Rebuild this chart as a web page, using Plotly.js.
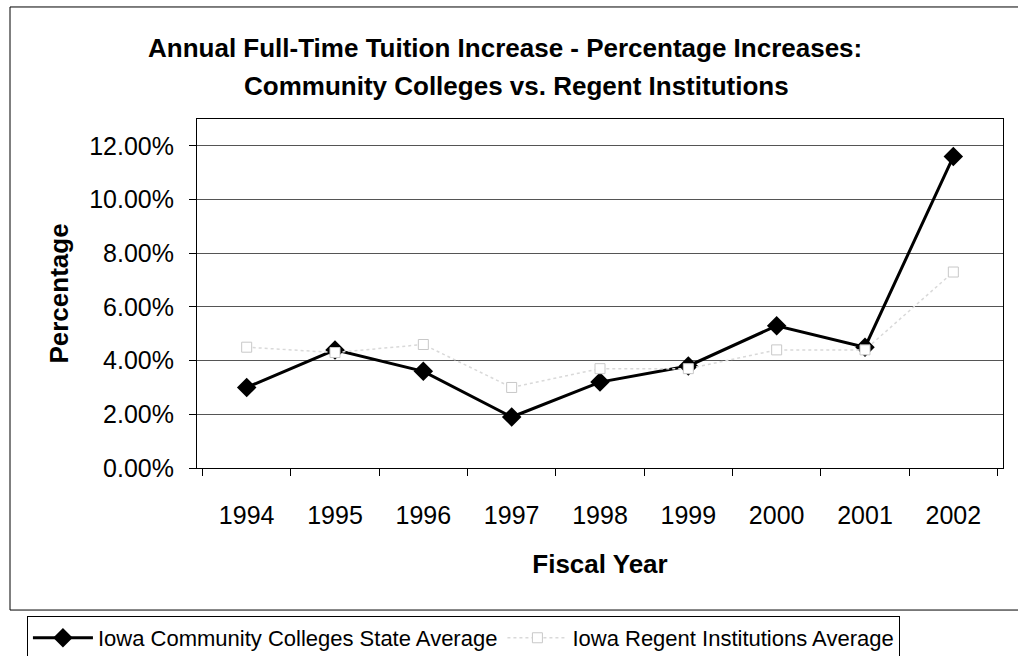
<!DOCTYPE html>
<html>
<head>
<meta charset="utf-8">
<script src="https://cdn.plot.ly/plotly-3.0.1.min.js"></script>
<style>html,body{margin:0;padding:0;background:#fff;}#chart{width:1018px;height:656px;}</style>
</head>
<body>
<div id="chart"></div>
<script>
const years = ['1994','1995','1996','1997','1998','1999','2000','2001','2002'];
const communityColleges = [0.030, 0.044, 0.036, 0.019, 0.032, 0.038, 0.053, 0.045, 0.116];
const regentInstitutions = [0.045, 0.043, 0.046, 0.030, 0.037, 0.037, 0.044, 0.044, 0.073];
const seriesNames = ['Iowa Community Colleges State Average', 'Iowa Regent Institutions Average'];
const titleLines = ['Annual Full-Time Tuition Increase - Percentage Increases:', 'Community Colleges vs. Regent Institutions'];

const FONT = 'Liberation Sans, Arial, sans-serif';

const traces = [
  {
    x: years, y: communityColleges, name: seriesNames[0], type: 'scatter', mode: 'lines+markers',
    line: {color: '#000', width: 3},
    marker: {symbol: 'diamond', size: 15, color: '#000'}
  },
  {
    x: years, y: regentInstitutions, name: seriesNames[1], type: 'scatter', mode: 'lines+markers',
    line: {color: '#d9d9d9', width: 1.5, dash: 'dot'},
    marker: {symbol: 'square', size: 10, color: '#fff', line: {color: '#c8c8c8', width: 1}}
  }
];

const layout = {
  width: 1018, height: 656,
  margin: {l: 197, r: 15, t: 119, b: 188, autoexpand: false},
  paper_bgcolor: '#fff', plot_bgcolor: '#fff',
  font: {family: FONT, color: '#000', size: 24},
  xaxis: {
    type: 'category', tickson: 'boundaries',
    ticks: 'outside', ticklen: 7, tickcolor: '#000',
    showline: true, linecolor: '#000', linewidth: 1, mirror: true,
    showgrid: false, zeroline: false,
    ticklabelstandoff: 25,
    tickfont: {family: FONT, size: 25},
    title: {text: '<b>Fiscal Year</b>', font: {family: FONT, size: 26}, standoff: 26}
  },
  yaxis: {
    range: [0, 0.13], dtick: 0.02, tick0: 0, tickformat: '.2%',
    ticks: 'outside', ticklen: 7, tickcolor: '#000',
    showline: true, linecolor: '#000', linewidth: 1, mirror: true,
    showgrid: true, gridcolor: '#555', gridwidth: 1,
    zeroline: false,
    ticklabelstandoff: 10,
    tickfont: {family: FONT, size: 25},
    title: {text: '<b>Percentage</b>', font: {family: FONT, size: 26}, standoff: 13}
  },
  showlegend: true,
  legend: {
    orientation: 'h', x: -0.211, xanchor: 'left', y: -0.487, yanchor: 'middle',
    bordercolor: '#000', borderwidth: 1, bgcolor: '#fff',
    font: {family: FONT, size: 22}, itemwidth: 60, traceorder: 'normal'
  },
  annotations: [
    {text: '<b>' + titleLines[0] + '</b>', xref: 'paper', yref: 'paper', x: 0.382, y: 1.2034,
     xanchor: 'center', yanchor: 'middle', showarrow: false, font: {family: FONT, size: 26, color: '#000'}},
    {text: '<b>' + titleLines[1] + '</b>', xref: 'paper', yref: 'paper', x: 0.397, y: 1.0946,
     xanchor: 'center', yanchor: 'middle', showarrow: false, font: {family: FONT, size: 26, color: '#000'}}
  ],
  shapes: [
    {type: 'rect', xref: 'paper', yref: 'paper', x0: -0.232, x1: 1.03, y0: -0.407, y1: 1.321,
     line: {color: '#000', width: 1}, fillcolor: 'rgba(0,0,0,0)', layer: 'below'}
  ]
};

Plotly.newPlot('chart', traces, layout, {displayModeBar: false, staticPlot: true});
</script>
</body>
</html>
